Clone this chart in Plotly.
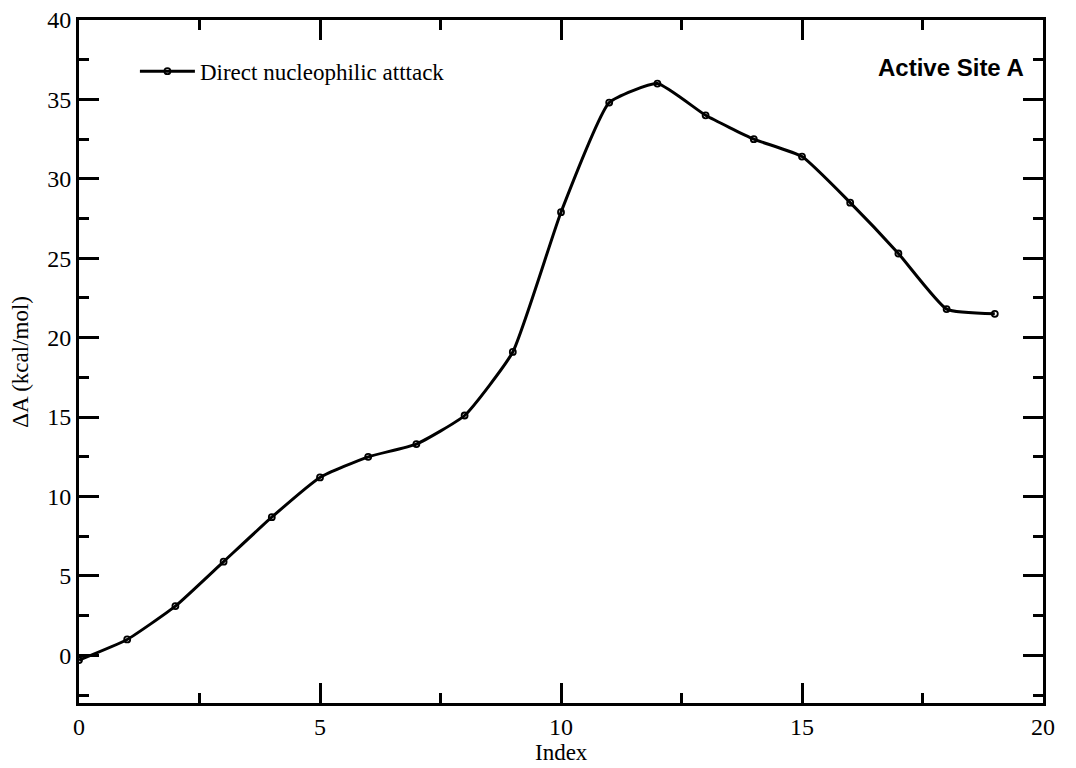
import plotly.graph_objects as go

index = list(range(20))
delta_a = [-0.3, 1.0, 3.1, 5.9, 8.7, 11.2, 12.5, 13.3, 15.1, 19.1,
           27.9, 34.8, 36.0, 34.0, 32.5, 31.4, 28.5, 25.3, 21.8, 21.5]
series_name = "Direct nucleophilic atttack"
x_ticks = [0, 5, 10, 15, 20]
y_ticks = [0, 5, 10, 15, 20, 25, 30, 35, 40]

fig = go.Figure()
fig.add_trace(go.Scatter(
    x=index, y=delta_a, name=series_name, mode="lines+markers",
    line=dict(color="black", width=3, shape="spline", smoothing=0.45),
    marker=dict(symbol="circle-open", size=6, color="black", line=dict(width=1.8)),
))

axis_common = dict(
    showline=True, linecolor="black", linewidth=3, mirror="allticks",
    ticks="inside", ticklen=20, tickwidth=3, tickcolor="black",
    showgrid=False, zeroline=False, automargin=False, ticklabeloverflow="allow",
    tickfont=dict(family="Liberation Serif", size=24, color="black"),
    minor=dict(ticks="inside", ticklen=10, tickwidth=3, tickcolor="black", dtick=2.5),
)

fig.update_layout(
    width=1068, height=760,
    paper_bgcolor="white", plot_bgcolor="white",
    margin=dict(l=71, r=33, t=12, b=65),
    showlegend=True,
    legend=dict(x=0.058, y=0.925, xanchor="left", yanchor="middle", itemwidth=55,
                bgcolor="rgba(0,0,0,0)",
                font=dict(family="Liberation Serif", size=23, color="black")),
    xaxis=dict(range=[0, 20], tickvals=x_ticks, ticklabelstandoff=0, **axis_common),
    yaxis=dict(range=[-3, 40], tickvals=y_ticks, **axis_common),
    annotations=[
        dict(text="<b>Active Site A</b>", xref="paper", yref="paper",
             x=0.982, y=0.93, xanchor="right", yanchor="middle", showarrow=False,
             font=dict(family="Liberation Sans", size=24, color="black")),
        dict(text="Index", xref="paper", yref="paper", x=0.5, y=-0.072,
             xanchor="center", yanchor="middle", showarrow=False,
             font=dict(family="Liberation Serif", size=23, color="black")),
        dict(text="ΔA (kcal/mol)", xref="paper", yref="paper", x=-0.061, y=0.5,
             xanchor="center", yanchor="middle", showarrow=False, textangle=-90,
             font=dict(family="Liberation Serif", size=23, color="black")),
    ],
)

fig.write_html("out.html")
